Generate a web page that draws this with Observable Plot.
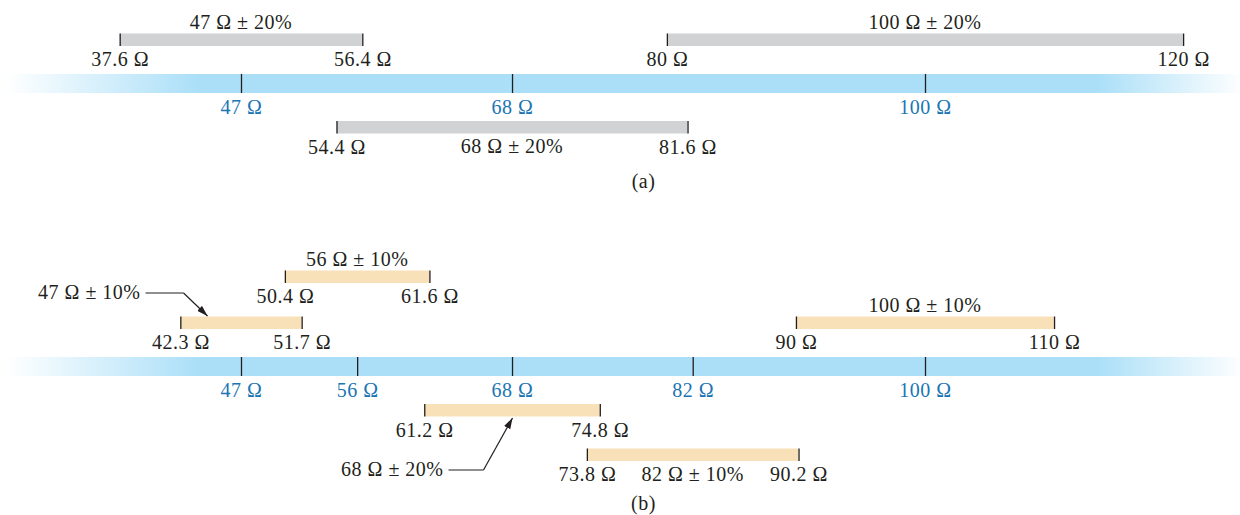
<!DOCTYPE html>
<html><head><meta charset="utf-8">
<script src="https://cdn.jsdelivr.net/npm/d3@7"></script>
<script src="https://cdn.jsdelivr.net/npm/@observablehq/plot@0.6"></script>
<style>body{margin:0;background:#fff}</style>
</head><body><div id="chart"></div>
<script>
// ---- Data: panel (a), ±20 % resistors ----
const aNominal = [47, 68, 100];
const aTolerance = [20, 20, 20];
const aLow = [37.6, 54.4, 80];
const aHigh = [56.4, 81.6, 120];
// ---- Data: panel (b), ±10 % resistors (and one ±20 %) ----
const bNominal = [47, 56, 68, 82, 100];
const bTolerance = [10, 10, 20, 10, 10];
const bLow = [42.3, 50.4, 61.2, 73.8, 90];
const bHigh = [51.7, 61.6, 74.8, 90.2, 110];
const panelNames = ["(a)", "(b)"];

// ---- Layout (not data) ----
const INK = "#231f20", BLUE_TEXT = "#1b75b3";
const FONT = 20;
const panels = [
  {name: panelNames[0], nominal: aNominal, tol: aTolerance, low: aLow, high: aHigh,
   bandTop: 74, bandBottom: 93, captionY: 181, barFill: "#d1d2d4",
   rows: {47: -1, 68: 1, 100: -1},
   mode: {47: "above", 68: "inline", 100: "above"},
   titleDx: {100: -44}},
  {name: panelNames[1], nominal: bNominal, tol: bTolerance, low: bLow, high: bHigh,
   bandTop: 357, bandBottom: 376, captionY: 503, barFill: "#f8e1b8",
   rows: {47: -1, 56: -2, 68: 1, 82: 2, 100: -1},
   mode: {47: "arrow", 56: "above", 68: "arrow", 82: "inline", 100: "above"},
   titleDx: {82: -5}}
];
const BAR_H = 12.5;
const omega = v => `${v} Ω`;

const ticks = [], bars = [], ends = [];
for (const p of panels) {
  p.nominal.forEach((n, i) => {
    ticks.push({value: n, y1: p.bandTop, y2: p.bandBottom, labelY: p.bandBottom + 14});
    const row = p.rows[n];
    let y1, y2;
    if (row < 0) { y2 = p.bandTop - 28 - (-row - 1) * 46; y1 = y2 - BAR_H; }
    else { y1 = p.bandBottom + 28 + (row - 1) * 44.5; y2 = y1 + BAR_H; }
    const b = {panel: p.name, nominal: n, tol: p.tol[i], low: p.low[i], high: p.high[i],
      y1, y2, labelY: y2 + 13.5, mode: p.mode[n], dx: p.titleDx[n] || 0, fill: p.barFill,
      title: `${n} Ω ± ${p.tol[i]}%`};
    b.titleY = b.mode === "above" ? y1 - 11 : b.labelY;
    bars.push(b);
    ends.push({x: b.low, y1, y2, labelY: b.labelY}, {x: b.high, y1, y2, labelY: b.labelY});
  });
}

// scale: px per ohm
const X_DOMAIN = [47, 100], X_RANGE = [241, 925];
const K = (X_RANGE[1] - X_RANGE[0]) / (X_DOMAIN[1] - X_DOMAIN[0]);

// annotation arrows (panel b): start -> elbow (horizontal), elbow -> tip (diagonal)
const arrows = [];
{
  const b47 = bars.find(d => d.panel === "(b)" && d.nominal === 47);
  const t = b47.low + 0.22 * (b47.high - b47.low);
  const tipY = b47.y1 - 1, elbY = tipY - 23;
  const elb = t - 24 / K, st = elb - 38 / K;
  arrows.push({sx: st, ex: elb, ey: elbY, tx: t, ty: tipY, text: b47.title});
  const b68 = bars.find(d => d.panel === "(b)" && d.nominal === 68);
  const t2 = b68.nominal, tip2 = b68.y2 + 1, elb2Y = tip2 + 52;
  const e2 = t2 - 29 / K, s2 = e2 - 35 / K;
  arrows.push({sx: s2, ex: e2, ey: elb2Y, tx: t2, ty: tip2, text: b68.title});
}

const textOpts = {fontSize: FONT, fill: INK};

const svg = Plot.plot({
  width: 1240, height: 515, margin: 0,
  x: {domain: X_DOMAIN, range: X_RANGE, axis: null},
  y: {type: "identity", axis: null},
  color: {type: "identity"},
  style: {fontFamily: "'Liberation Serif','Times New Roman',serif", background: "#fff", color: INK, letterSpacing: "0.5px"},
  marks: [
    Plot.rect(panels, {y1: "bandTop", y2: "bandBottom", fill: "url(#bandGrad)"}),
    Plot.ruleX(ticks, {x: "value", y1: "y1", y2: "y2", stroke: INK, strokeWidth: 1.3}),
    Plot.text(ticks, {x: "value", y: "labelY", text: d => omega(d.value), fontSize: FONT, fill: BLUE_TEXT}),
    Plot.rect(bars, {x1: "low", x2: "high", y1: "y1", y2: "y2", fill: "fill"}),
    Plot.ruleX(ends, {x: "x", y1: "y1", y2: "y2", stroke: INK, strokeWidth: 1.3}),
    Plot.text(ends, {x: "x", y: "labelY", text: d => omega(d.x), ...textOpts}),
    Plot.text(bars.filter(d => d.mode !== "arrow"), {x: "nominal", y: "titleY", dx: "dx", text: "title", ...textOpts}),
    Plot.link(arrows, {x1: "sx", y1: "ey", x2: "ex", y2: "ey", stroke: INK, strokeWidth: 1.2}),
    Plot.link(arrows, {x1: "ex", y1: "ey", x2: "tx", y2: "ty", stroke: INK, strokeWidth: 1.2, markerEnd: "arrow"}),
    Plot.text(arrows, {x: "sx", y: "ey", dx: -5, textAnchor: "end", text: "text", ...textOpts}),
    Plot.text(panels, {y: "captionY", dx: 23, text: "name", ...textOpts})
  ]
});

// gradient definition for the fading band
const ns = "http://www.w3.org/2000/svg";
const defs = document.createElementNS(ns, "defs");
defs.innerHTML = `
<linearGradient id="bandGrad" x1="0" x2="1" y1="0" y2="0">
  <stop offset="0" stop-color="#abdff8" stop-opacity="0"/>
  <stop offset="0.008" stop-color="#abdff8" stop-opacity="0.02"/>
  <stop offset="0.16" stop-color="#abdff8" stop-opacity="1"/>
  <stop offset="0.885" stop-color="#abdff8" stop-opacity="1"/>
  <stop offset="1" stop-color="#abdff8" stop-opacity="0.03"/>
</linearGradient>`;
svg.insertBefore(defs, svg.firstChild);
// make the arrow markers solid triangular heads
svg.querySelectorAll("marker").forEach(m => {
  m.setAttribute("viewBox", "-11 -3.5 11 7");
  m.setAttribute("markerWidth", 11);
  m.setAttribute("markerHeight", 7);
  m.setAttribute("markerUnits", "userSpaceOnUse");
  m.setAttribute("fill", INK);
  m.setAttribute("stroke", "none");
  const p = m.querySelector("path");
  if (p) p.setAttribute("d", "M-11,-3.5L0,0L-11,3.5Z");
});

document.getElementById("chart").appendChild(svg);
</script>
</body></html>
